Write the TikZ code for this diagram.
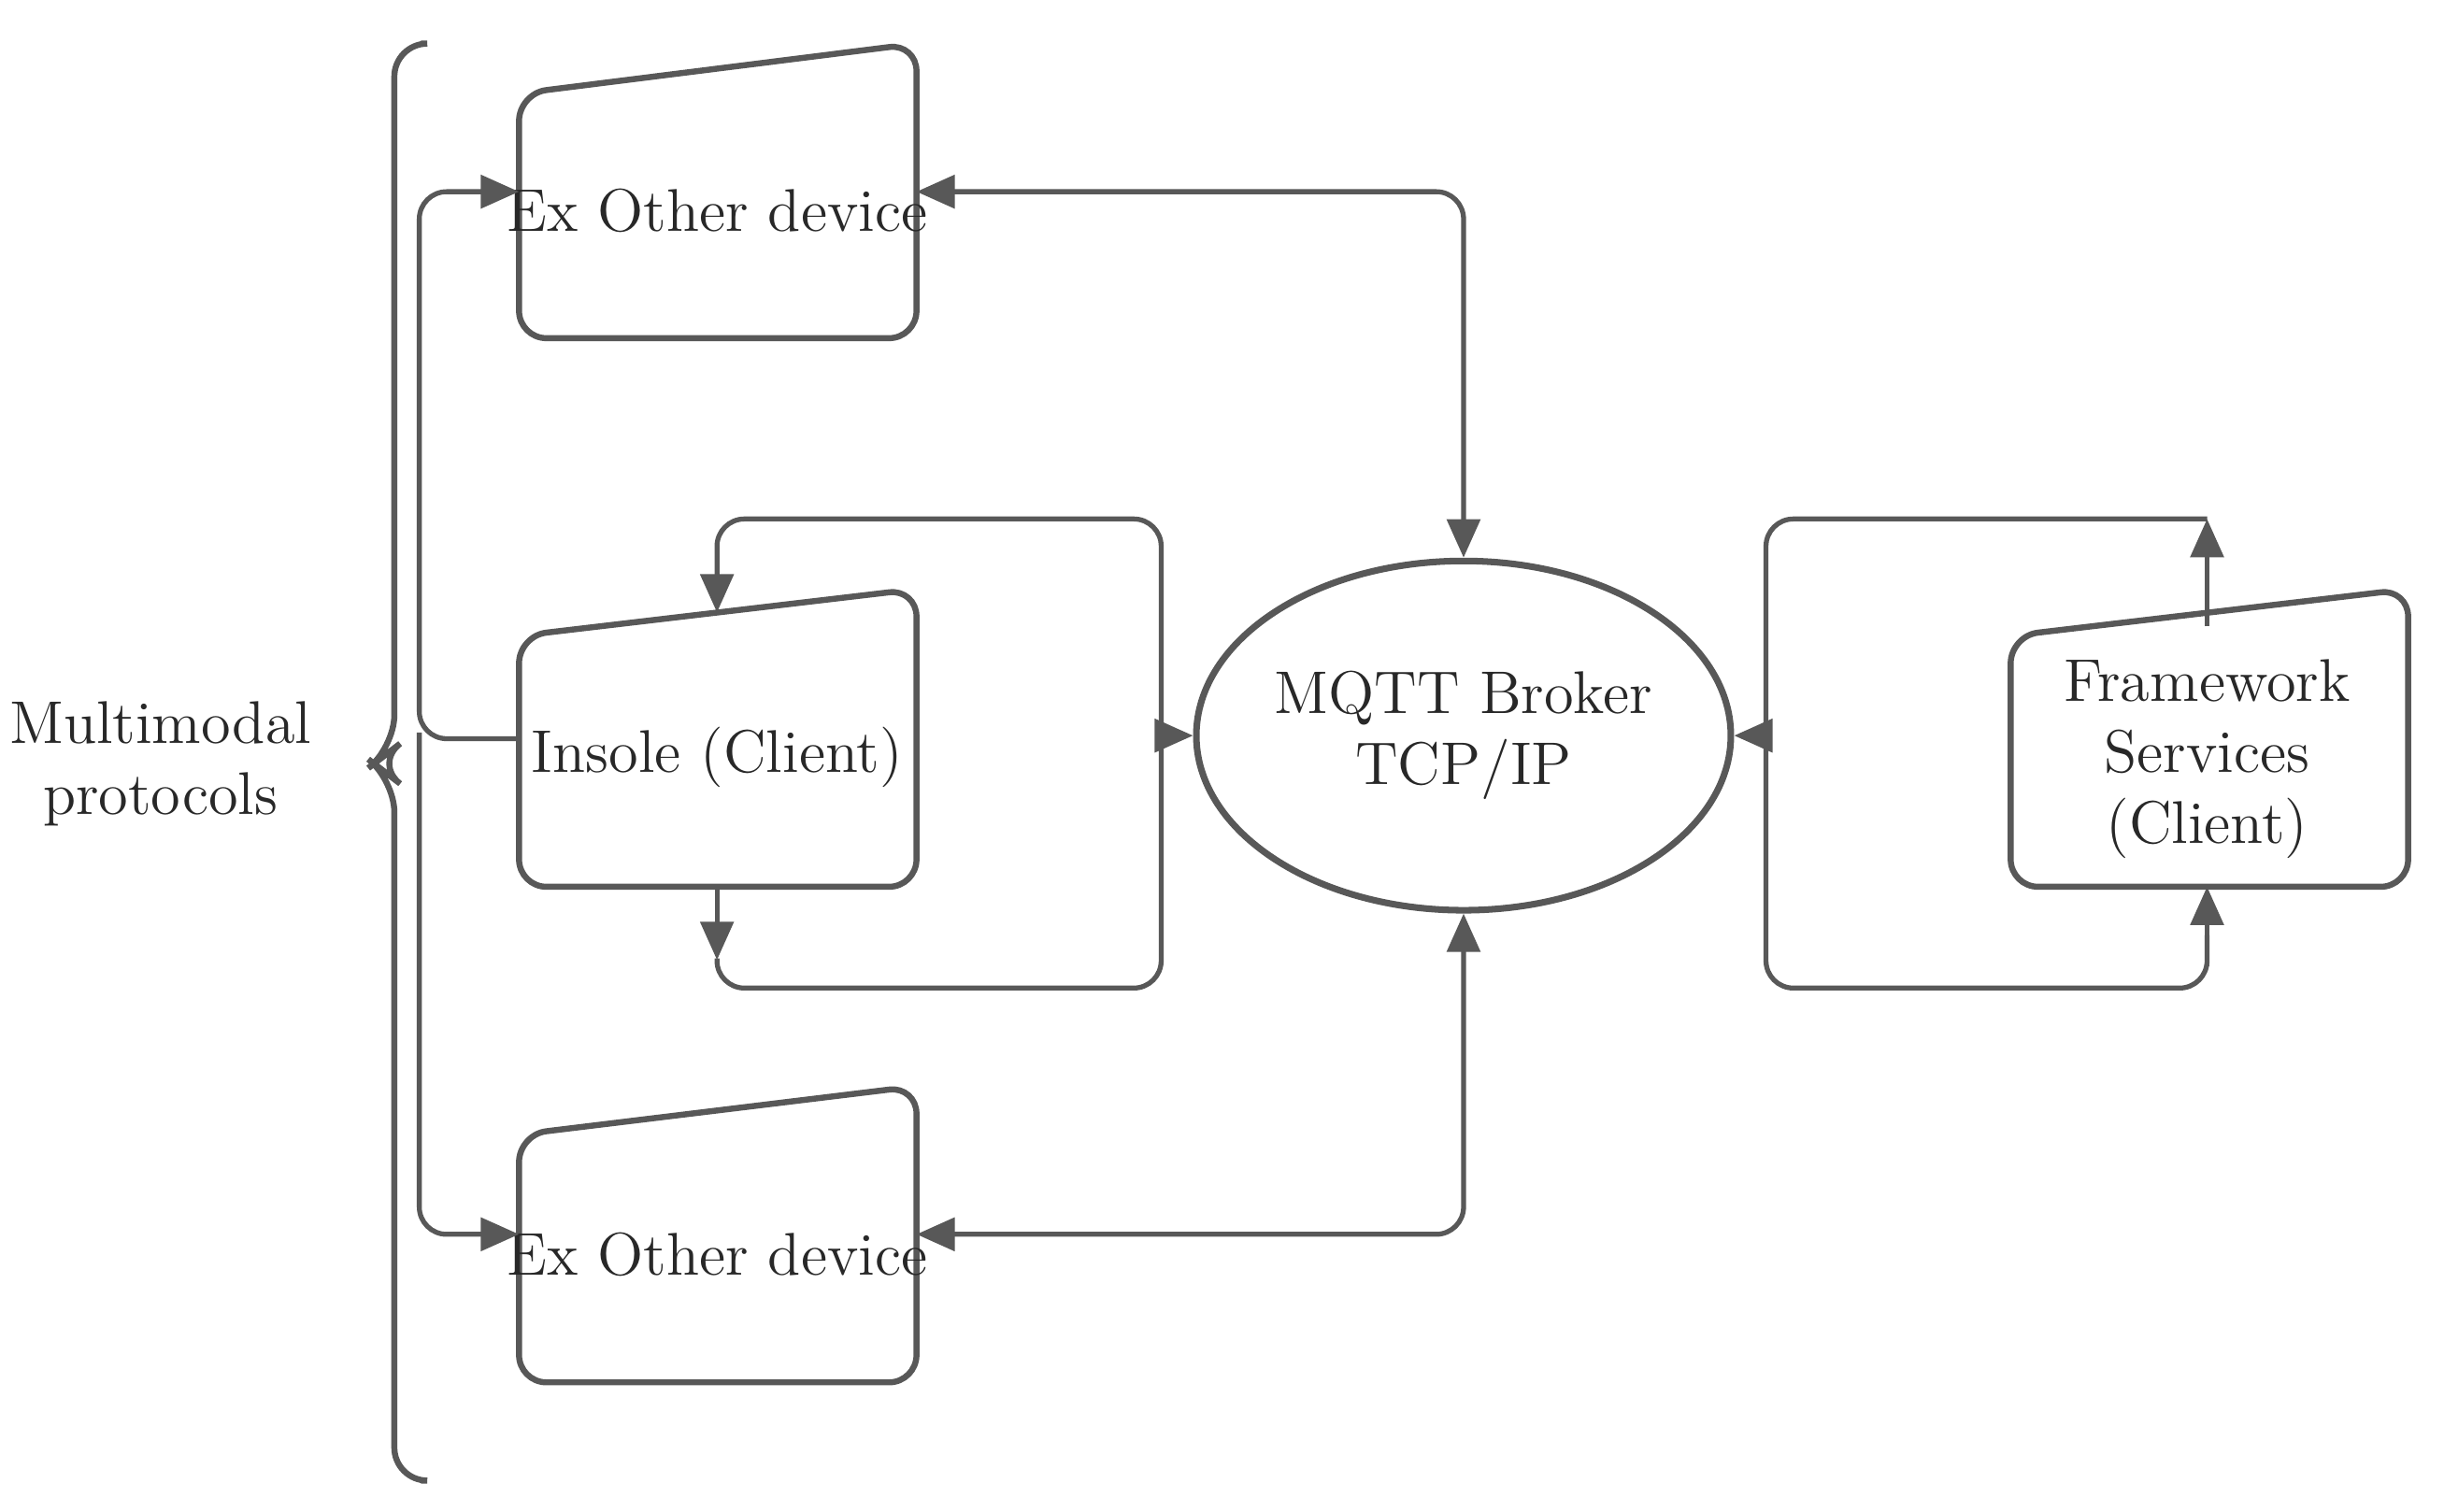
\documentclass[tikz,border=0pt]{standalone}
\usetikzlibrary{arrows.meta,shapes.geometric}
\definecolor{ln}{RGB}{88,88,88}
\definecolor{tx}{RGB}{40,40,40}
\begin{document}
\begin{tikzpicture}[x=0.01cm,y=-0.01cm,
  line width=0.9pt, draw=ln,
  box/.style={draw=ln,line width=1.1pt,rounded corners=5pt},
  lbl/.style={text=tx,font=\fontsize{11}{13}\selectfont,align=center},
  con/.style={draw=ln,line width=0.9pt,rounded corners=5pt},
  arr/.style={-{Triangle[length=7pt,width=6pt]}},
  darr/.style={{Triangle[length=7pt,width=6pt]}-{Triangle[length=7pt,width=6pt]}}]
\useasboundingbox (0,0) rectangle (1568,970);
% boxes
\draw[box] (333,60) -- (588,28) -- (588,217) -- (333,217) -- cycle;
\draw[box] (333,408) -- (588,378) -- (588,569) -- (333,569) -- cycle;
\draw[box] (333,728) -- (588,697) -- (588,887) -- (333,887) -- cycle;
\draw[box] (1290,408) -- (1545,378) -- (1545,569) -- (1290,569) -- cycle;
\node[lbl] (top) at (460,135) {Ex Other device};
\node[lbl] (ins) at (460,486) {Insole (Client)};
\node[lbl] (bot) at (460,805) {Ex Other device};
\node[lbl] (fw) at (1416,487) {Framework\\Services\\(Client)};
\node[draw=ln,line width=1.2pt,ellipse,minimum width=2.6cm,minimum height=2.24cm,inner sep=0,lbl] (mq) at (939,472) {MQTT Broker\\TCP/IP};
\node[lbl] (mm) at (103,490) {Multimodal\\protocols};
% coordinates
\coordinate (topR) at (588,123); \coordinate (botR) at (588,792);
\coordinate (topL) at (333,123); \coordinate (botL) at (333,792);
\coordinate (insL) at (333,474);
\coordinate (insT) at (460,393); \coordinate (insB) at (460,569);
\coordinate (fwT) at (1416,402); \coordinate (fwB) at (1416,569);
% connectors
\draw[con,darr] (topR) -- (939,123) -- (mq.north);
\draw[con,darr] (botR) -- (939,792) -- (mq.south);
\draw[con,arr] (insL) -| (269,123) -- (topL);
\draw[con,arr] (269,470) |- (botL);
\draw[con,arr] (745,472) |- (460,333) -- (insT);
\draw[con] (745,472) |- (460,634) -- (460,615);
\draw[con,arr] (insB) -- (460,616);
\draw[con,arr] (745,472) -- (mq.west);
\draw[con,arr] (fwT) -- (1416,333);
\draw[con] (1416,333) -| (1133,634) -| (1416,600);
\draw[con,arr] (1416,620) -- (fwB);
\draw[con,arr] (1133,472) -- (mq.east);
% brace
\draw[draw=ln,line width=1.1pt,rounded corners=6pt] (270,28) -- (253,28) -- (253,480) -- (240,490) -- (253,500) -- (253,950) -- (270,950);
\end{tikzpicture}
\end{document}
